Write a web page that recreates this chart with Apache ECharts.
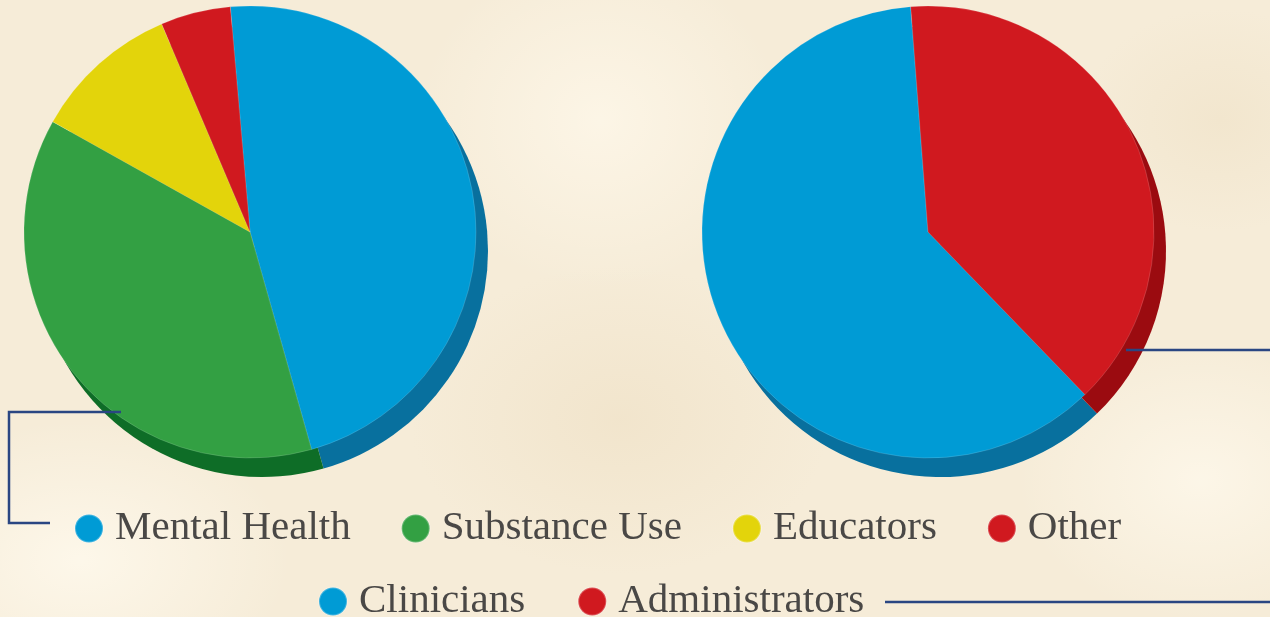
<!DOCTYPE html>
<html>
<head>
<meta charset="utf-8">
<script src="https://cdn.jsdelivr.net/npm/echarts@6/dist/echarts.min.js"></script>
<style>
  html, body { margin: 0; padding: 0; }
  body {
    width: 1270px; height: 617px; overflow: hidden;
    background-color: #f6ecd8;
    background-image:
      radial-gradient(ellipse 300px 200px at 80px 560px, rgba(255,250,238,0.8), rgba(255,250,238,0) 70%),
      radial-gradient(ellipse 260px 240px at 600px 120px, rgba(255,249,236,0.7), rgba(255,249,236,0) 70%),
      radial-gradient(ellipse 300px 220px at 620px 420px, rgba(236,220,190,0.45), rgba(236,220,190,0) 70%),
      radial-gradient(ellipse 260px 200px at 1200px 480px, rgba(255,250,238,0.7), rgba(255,250,238,0) 70%),
      radial-gradient(ellipse 200px 160px at 1220px 120px, rgba(238,224,196,0.5), rgba(238,224,196,0) 70%);
  }
  #main { width: 1270px; height: 617px; }
</style>
</head>
<body>
<div id="main"></div>
<script>
// 左边饼图：专业领域
const fieldNames = ['Mental Health', 'Substance Use', 'Educators', 'Other'];
const fieldValues = [47, 37.5, 10.5, 5];
const fieldColors = ['#009bd5', '#33a043', '#e3d40b', '#d0191f'];
const fieldShadow = ['#08709e', '#0e6d27', '#9a8f08', '#9b0b10'];

// 右边饼图：角色
const roleNames = ['Clinicians', 'Administrators'];
const roleValues = [61, 39];
const roleColors = ['#009bd5', '#d0191f'];
const roleShadow = ['#08709e', '#9b0b10'];

const lineColor = '#2a4682';

const chart = echarts.init(document.getElementById('main'));

function pieData(names, values, colors) {
  return names.map((n, i) => ({
    name: n,
    value: values[i],
    itemStyle: { color: colors[i] }
  }));
}

function pie(names, values, colors, center, startAngle, z, isShadow) {
  return {
    type: 'pie',
    center: center,
    radius: 226,
    startAngle: startAngle,
    clockwise: true,
    z: z,
    silent: isShadow,
    label: { show: false },
    labelLine: { show: false },
    emphasis: { disabled: true },
    animation: false,
    itemStyle: isShadow
      ? { borderWidth: 0 }
      : { borderColor: 'rgba(255,255,255,0.25)', borderWidth: 0.6 },
    data: pieData(names, values, colors)
  };
}

const legendText = {
  fontFamily: 'Liberation Serif',
  fontSize: 41,
  color: '#4a4846',
  padding: [0, 0, 0, 7]
};

const option = {
  backgroundColor: 'transparent',
  animation: false,
  legend: [
    {
      data: fieldNames,
      left: 74,
      top: 508,
      orient: 'horizontal',
      icon: 'circle',
      itemWidth: 28,
      itemHeight: 28,
      itemGap: 50,
      padding: 0,
      selectedMode: false,
      textStyle: legendText
    },
    {
      data: roleNames,
      left: 318,
      top: 581,
      orient: 'horizontal',
      icon: 'circle',
      itemWidth: 28,
      itemHeight: 28,
      itemGap: 52,
      padding: 0,
      selectedMode: false,
      textStyle: legendText
    }
  ],
  series: [
    pie(fieldNames, fieldValues, fieldColors, [250, 232], 95, 3, false),
    pie(roleNames, roleValues, roleColors, [928, 232], -46, 3, false),
    pie(fieldNames, fieldValues, fieldShadow, [262, 251], 95, 1, true),
    pie(roleNames, roleValues, roleShadow, [940, 251], -46, 1, true)
  ],
  graphic: [
    {
      type: 'polyline', z: 10,
      shape: { points: [[121, 412], [9, 412], [9, 523], [50, 523]] },
      style: { stroke: lineColor, lineWidth: 2.5, fill: null }
    },
    {
      type: 'line', z: 10,
      shape: { x1: 1126, y1: 350, x2: 1270, y2: 350 },
      style: { stroke: lineColor, lineWidth: 2.5 }
    },
    {
      type: 'line', z: 10,
      shape: { x1: 885, y1: 602, x2: 1270, y2: 602 },
      style: { stroke: lineColor, lineWidth: 2.5 }
    }
  ]
};

chart.setOption(option);
</script>
</body>
</html>
